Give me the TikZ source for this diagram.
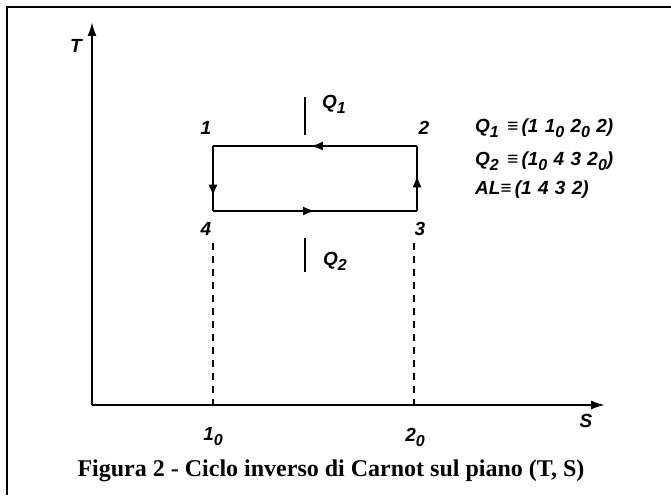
\documentclass[tikz,border=0pt]{standalone}
\usepackage{fontspec}
\setmainfont{Liberation Serif}
\newfontfamily\handfont{Liberation Sans}
\usetikzlibrary{arrows.meta,decorations.markings}
\newcommand{\hsub}[1]{\raisebox{-0.5ex}{\fontsize{16}{16}\selectfont #1}}
\tikzset{
  lbl/.style={font=\handfont\bfseries\itshape\fontsize{19}{19}\selectfont, inner sep=1pt},
  axis/.style={line width=2pt, -{Latex[length=14pt,width=9pt]}},
  cyc/.style={line width=2pt},
  marr/.style={postaction={decorate}, decoration={markings, mark=at position #1 with {\arrow{Latex[length=12pt,width=9pt]}}}},
  dsh/.style={line width=2pt, dash pattern=on 7pt off 6pt},
  qline/.style={line width=2pt}
}
\begin{document}
\begin{tikzpicture}[x=1pt,y=-1pt]
\useasboundingbox (0,0) rectangle (671,495);
\draw[line width=2.5pt] (7,495) -- (7,7) -- (671,7);
% axes
\coordinate (O) at (92,405);
\coordinate (Ttip) at (92,22);
\coordinate (Stip) at (605,405);
\draw[axis] (O) -- (Ttip);
\draw[axis] (O) -- (Stip);
\node[lbl] (T) at (76,46) {T};
\node[lbl] (S) at (586,421) {S};
% cycle corners
\coordinate (c1) at (213,146);
\coordinate (c2) at (417,146);
\coordinate (c3) at (417,211);
\coordinate (c4) at (213,211);
\draw[cyc, marr=0.52] (c2) -- (c1);
\draw[cyc, marr=0.78] (c1) -- (c4);
\draw[cyc, marr=0.5] (c4) -- (c3);
\draw[cyc, marr=0.55] (c3) -- (c2);
\node[lbl] (n1) at (206,128) {1};
\node[lbl] (n2) at (424,128) {2};
\node[lbl] (n4) at (206,229) {4};
\node[lbl] (n3) at (420,229) {3};
% heat lines
\coordinate (q1a) at (305,97);
\coordinate (q1b) at (305,135);
\draw[qline] (q1a) -- (q1b);
\node[lbl] (Q1) at (334,104) {Q\hsub{1}};
\coordinate (q2a) at (305,238);
\coordinate (q2b) at (305,272);
\draw[qline] (q2a) -- (q2b);
\node[lbl] (Q2) at (335,261) {Q\hsub{2}};
% dashed projections
\coordinate (d1) at (213,243);
\coordinate (x1) at (213,405);
\coordinate (d2) at (414,243);
\coordinate (x2) at (414,405);
\draw[dsh] (d1) -- (x1);
\draw[dsh] (d2) -- (x2);
\node[lbl] (s10) at (213,437) {1\hsub{0}};
\node[lbl] (s20) at (415,437) {2\hsub{0}};
% legend
\node[lbl, anchor=west] (L1) at (474,128) {Q\hsub{1}\, {\handfont ≡}\,(1\,\,1\hsub{0}\,\,2\hsub{0}\,\,2)};
\node[lbl, anchor=west] (L2) at (474,161) {Q\hsub{2}\, {\handfont ≡}\,(1\hsub{0}\,\,4\,\,3\,\,2\hsub{0})};
\node[lbl, anchor=west] (L3) at (474,190) {AL{\handfont ≡}\,(1\,\,4\,\,3\,\,2)};
% caption
\node[font=\bfseries\fontsize{24}{24}\selectfont, inner sep=0pt] (cap) at (331,471) {Figura 2 - Ciclo inverso di Carnot sul piano (T, S)};
\end{tikzpicture}
\end{document}
